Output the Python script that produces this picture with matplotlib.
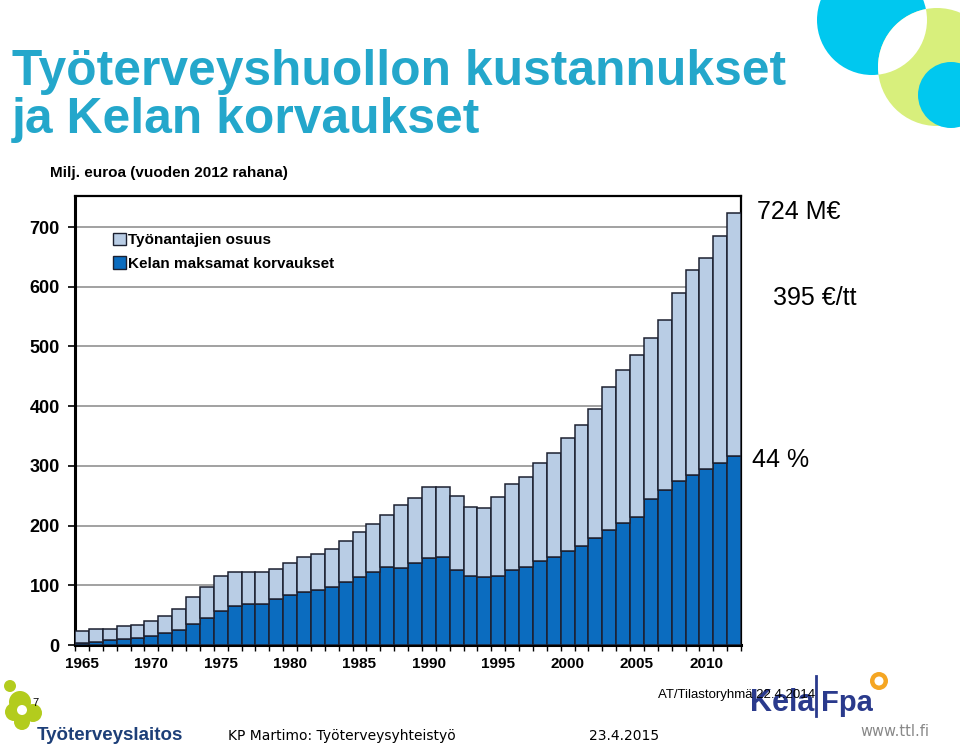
import numpy as np
import matplotlib.pyplot as plt
from matplotlib.patches import Circle, Patch

# data (milj. euroa, vuoden 2012 rahana)
years = list(range(1965, 2013))
total = [23.5, 26, 27.5, 31, 33, 40, 49, 60, 80, 97,
         116, 123, 122, 123, 127, 137, 147, 153, 161, 175,
         190, 203, 218, 234, 246, 264, 265, 250, 231, 230,
         248, 269, 281, 305, 321, 346, 369, 395, 432, 460,
         485, 514, 545, 590, 628, 648, 685, 724]
kela = [3, 4.5, 8, 9.5, 12, 15, 20, 25, 36, 46,
        57, 66, 68, 68, 77, 83, 89, 92, 97, 105,
        114, 122, 131, 129, 137, 146, 147, 126, 116, 114,
        116, 125, 130, 140, 147, 157, 166, 179, 193, 205,
        215, 245, 259, 275, 285, 295, 304, 317]
year_labels = [1965, 1970, 1975, 1980, 1985, 1990, 1995, 2000, 2005, 2010]
y_ticks = [0, 100, 200, 300, 400, 500, 600, 700]

employer = np.array(total) - np.array(kela)

light = '#b9cde5'
dark = '#0b6cbf'
edge = '#1c2030'
title_col = '#24a7cb'
arial = 'Liberation Sans'

fig = plt.figure(figsize=(9.6, 7.48), dpi=100)

# decoration layer in pixel coords
deco = fig.add_axes([0, 0, 1, 1], zorder=0)
deco.set_xlim(0, 960)
deco.set_ylim(748, 0)
deco.axis('off')

cy_big = Circle((872, 20), 55, color='#00c8ef', lw=0)
gr = Circle((937, 67), 59, color='#d8ef7c', lw=0)
deco.add_patch(cy_big)
deco.add_patch(gr)
lens = Circle((937, 67), 59, color='white', lw=0)
deco.add_patch(lens)
lens.set_clip_path(cy_big)
deco.add_patch(Circle((951, 95), 33, color='#00c8ef', lw=0))

# ttl logo blob
for (cx, cy, r) in [(10, 686, 6), (20, 702, 11), (14, 712, 9), (33, 713, 9), (22, 722, 8)]:
    deco.add_patch(Circle((cx, cy), r, color='#b3cc1d', lw=0))
deco.add_patch(Circle((22, 710), 5, color='white', lw=0))
deco.add_patch(Circle((879, 681), 9, color='#f5a623', lw=0))
deco.add_patch(Circle((879, 681), 4.5, color='white', lw=0))

fig.text(12, 748 - 85, 'Työterveyshuollon kustannukset', transform=None,
         fontsize=35.8, fontweight='bold', family=arial, color=title_col, va='baseline')
fig.text(12, 748 - 133, 'ja Kelan korvaukset', transform=None,
         fontsize=35.8, fontweight='bold', family=arial, color=title_col, va='baseline')
fig.text(50, 748 - 177, 'Milj. euroa (vuoden 2012 rahana)', transform=None,
         fontsize=11, fontweight='bold', family=arial, color='black', va='baseline')

# chart
ax = fig.add_axes([75 / 960, 1 - 645 / 748, 666 / 960, 449 / 748], zorder=1)
ax.set_facecolor('none')
ax.bar(years, kela, width=1.0, color=dark, edgecolor=edge, linewidth=1.1, zorder=3)
ax.bar(years, employer, bottom=kela, width=1.0, color=light, edgecolor=edge,
       linewidth=1.1, zorder=3)

ax.set_xlim(1964.5, 2012.5)
ax.set_ylim(0, 752)
ax.set_yticks(y_ticks)
ax.set_yticklabels([str(v) for v in y_ticks], fontsize=13, fontweight='bold', family=arial)
ax.set_xticks(year_labels)
ax.set_xticklabels([str(v) for v in year_labels], fontsize=11, fontweight='bold', family=arial)
ax.set_xticks(np.arange(1964.5, 2013, 1.0), minor=True)
ax.tick_params(axis='x', which='major', length=0, pad=9)
ax.tick_params(axis='x', which='minor', length=4, width=1, direction='out')
ax.tick_params(axis='y', length=5, width=1.2, direction='out', pad=6)
for g in y_ticks[1:]:
    ax.axhline(g, color='#9a9a9a', lw=1.3, zorder=1)
for s in ['left', 'bottom']:
    ax.spines[s].set_linewidth(2.2)
for s in ['top', 'right']:
    ax.spines[s].set_linewidth(1.6)

handles = [Patch(facecolor=light, edgecolor=edge, lw=1),
           Patch(facecolor=dark, edgecolor=edge, lw=1)]
ax.legend(handles, ['Työnantajien osuus', 'Kelan maksamat korvaukset'],
          loc='upper left', bbox_to_anchor=(0.057, 0.918), frameon=False,
          prop={'family': arial, 'weight': 'bold', 'size': 11},
          handlelength=0.85, handleheight=0.85, handletextpad=0.15,
          labelspacing=0.6, borderpad=0, borderaxespad=0)

# side notes
fig.text(757, 748 - 219, '724 M€', transform=None, fontsize=18, family=arial, va='baseline')
fig.text(773, 748 - 305, '395 €/tt', transform=None, fontsize=18, family=arial, va='baseline')
fig.text(752, 748 - 467, '44 %', transform=None, fontsize=18, family=arial, va='baseline')

# footer
fig.text(32, 748 - 706, '7', transform=None, fontsize=8, family=arial, va='baseline')
fig.text(37, 748 - 740, 'Työterveyslaitos', transform=None, fontsize=13.5, fontweight='bold',
         family=arial, color='#1d3f78', va='baseline')
fig.text(228, 748 - 740, 'KP Martimo: Työterveysyhteistyö', transform=None, fontsize=10,
         family='DejaVu Sans', va='baseline')
fig.text(589, 748 - 740, '23.4.2015', transform=None, fontsize=10,
         family='DejaVu Sans', va='baseline')
fig.text(860, 748 - 736, 'www.ttl.fi', transform=None, fontsize=10.5,
         family='DejaVu Sans', color='#888888', va='baseline')
fig.text(750, 748 - 711, 'Kela', transform=None, fontsize=22, fontweight='bold',
         family=arial, color='#2a3a8c', va='baseline')
fig.text(821, 748 - 711, 'Fpa', transform=None, fontsize=21, fontweight='bold',
         family=arial, color='#2a3a8c', va='baseline')
deco.plot([816, 816], [676, 716], color='#2a3a8c', lw=2)
fig.text(658, 748 - 698, 'AT/Tilastoryhmä 22.4.2014', transform=None, fontsize=9.5,
         family=arial, va='baseline', zorder=5)

fig.savefig('out.png', dpi=100)
